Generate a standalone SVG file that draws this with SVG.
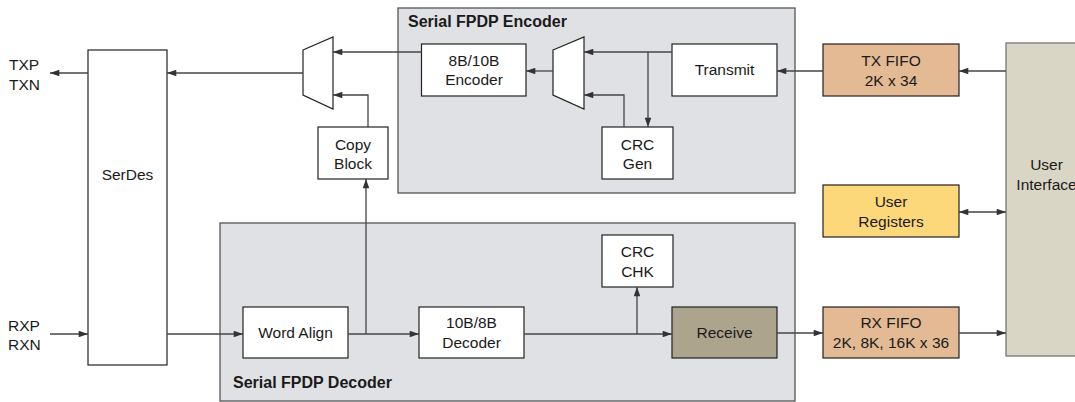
<svg xmlns="http://www.w3.org/2000/svg" width="1075" height="402" viewBox="0 0 1075 402">
<style>
text{font-family:"Liberation Sans",Arial,sans-serif;font-size:15.5px;fill:#1a1a1a}
.c{text-anchor:middle}
.t{font-weight:bold;font-size:16px}
.box{fill:#fff;stroke:#222;stroke-width:1.2}
.panel{fill:#dfe1e4;stroke:#555;stroke-width:1.3}
.mux{fill:#fff;stroke:#222;stroke-width:1.2}
.ln{fill:none;stroke:#444;stroke-width:1.3}
</style>
<defs>
<marker id="ah" viewBox="0 0 10 7" markerUnits="userSpaceOnUse" markerWidth="10" markerHeight="6.5" refX="10" refY="3.5" orient="auto-start-reverse">
<path d="M0,0 L10,3.5 L0,7 z" fill="#333"/>
</marker>
</defs>

<g id="encoder-panel">
<rect class="panel" x="398" y="8" width="397" height="185"/>
<text class="t" x="408" y="26.5">Serial FPDP Encoder</text>
</g>
<g id="decoder-panel">
<rect class="panel" x="220" y="223" width="575" height="178"/>
<text class="t" x="233" y="388">Serial FPDP Decoder</text>
</g>

<g id="txp-label"><text x="9" y="70">TXP</text><text x="9" y="90">TXN</text></g>
<g id="rxp-label"><text x="8" y="330.5">RXP</text><text x="8" y="350">RXN</text></g>

<g id="serdes">
<rect class="box" x="88" y="50" width="79" height="315"/>
<text class="c" x="127.5" y="180">SerDes</text>
</g>

<g id="tx-mux"><path class="mux" d="M303,50 L333,37 L333,109 L303,95 Z"/></g>

<g id="copy-block">
<rect class="box" x="318" y="127" width="70" height="52"/>
<text class="c" x="353" y="149.5">Copy</text><text class="c" x="353" y="169">Block</text>
</g>

<g id="encoder-8b10b">
<rect class="box" x="421.5" y="44" width="104.5" height="52"/>
<text class="c" x="474" y="65.5">8B/10B</text><text class="c" x="474" y="85">Encoder</text>
</g>

<g id="crc-mux"><path class="mux" d="M553,50 L584,37 L584,109 L553,95 Z"/></g>

<g id="transmit">
<rect class="box" x="672" y="44" width="105" height="52"/>
<text class="c" x="724.5" y="75">Transmit</text>
</g>

<g id="crc-gen">
<rect class="box" x="602" y="127" width="71" height="52"/>
<text class="c" x="637.5" y="149.5">CRC</text><text class="c" x="637.5" y="169">Gen</text>
</g>

<g id="tx-fifo">
<rect class="box" x="823" y="44" width="136" height="52" style="fill:#e3ba94"/>
<text class="c" x="891" y="65.5">TX FIFO</text><text class="c" x="891" y="85.5">2K x 34</text>
</g>

<g id="user-registers">
<rect class="box" x="823" y="185" width="136" height="52" style="fill:#fdd87a"/>
<text class="c" x="891" y="207">User</text><text class="c" x="891" y="226.5">Registers</text>
</g>

<g id="rx-fifo">
<rect class="box" x="823" y="307" width="136" height="51" style="fill:#e3ba94"/>
<text class="c" x="891" y="328">RX FIFO</text><text class="c" x="891" y="348">2K, 8K, 16K x 36</text>
</g>

<g id="user-interface">
<rect x="1006" y="43" width="80" height="313" style="fill:#d9d6c6;stroke:#777;stroke-width:1.3"/>
<text class="c" x="1046.5" y="170">User</text><text class="c" x="1046.5" y="190">Interface</text>
</g>

<g id="word-align">
<rect class="box" x="243" y="307" width="105" height="51"/>
<text class="c" x="295.5" y="338">Word Align</text>
</g>

<g id="decoder-10b8b">
<rect class="box" x="419" y="307" width="105" height="51"/>
<text class="c" x="471.5" y="328">10B/8B</text><text class="c" x="471.5" y="348">Decoder</text>
</g>

<g id="crc-chk">
<rect class="box" x="602" y="235" width="71" height="52"/>
<text class="c" x="637.5" y="257">CRC</text><text class="c" x="637.5" y="276.5">CHK</text>
</g>

<g id="receive">
<rect class="box" x="672" y="307" width="105" height="51" style="fill:#ada48e"/>
<text class="c" x="724.5" y="338">Receive</text>
</g>

<g id="connectors">
<path class="ln" d="M88,73 H50" marker-end="url(#ah)"/>
<path class="ln" d="M303,73 H167" marker-end="url(#ah)"/>
<path class="ln" d="M421.5,52 H333" marker-end="url(#ah)"/>
<path class="ln" d="M368,127 V95 H333" marker-end="url(#ah)"/>
<path class="ln" d="M366,334 V179" marker-end="url(#ah)"/>
<path class="ln" d="M553,71 H526" marker-end="url(#ah)"/>
<path class="ln" d="M672,52 H584" marker-end="url(#ah)"/>
<path class="ln" d="M648,52 V127" marker-end="url(#ah)"/>
<path class="ln" d="M624,127 V95 H584" marker-end="url(#ah)"/>
<path class="ln" d="M823,71 H777" marker-end="url(#ah)"/>
<path class="ln" d="M1006,71 H959" marker-end="url(#ah)"/>
<path class="ln" d="M959,212 H1006" marker-start="url(#ah)" marker-end="url(#ah)"/>
<path class="ln" d="M50,334 H88" marker-end="url(#ah)"/>
<path class="ln" d="M167,334 H243" marker-end="url(#ah)"/>
<path class="ln" d="M348,334 H419" marker-end="url(#ah)"/>
<path class="ln" d="M524,334 H672" marker-end="url(#ah)"/>
<path class="ln" d="M637,334 V287" marker-end="url(#ah)"/>
<path class="ln" d="M777,333 H823" marker-end="url(#ah)"/>
<path class="ln" d="M959,333 H1006" marker-end="url(#ah)"/>
</g>
</svg>
